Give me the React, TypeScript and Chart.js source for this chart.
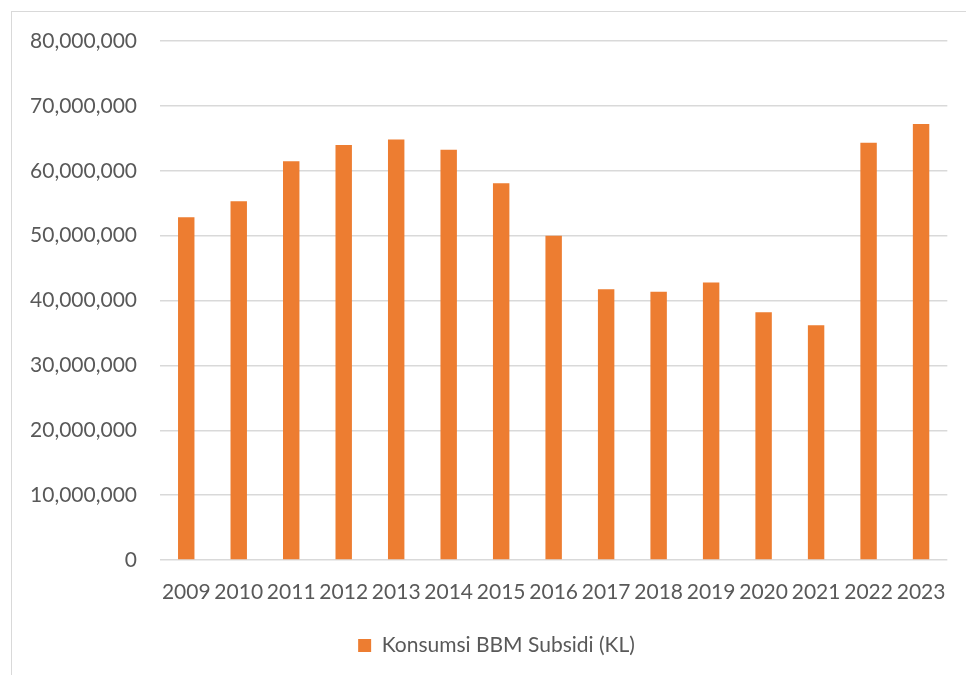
import React, { useEffect, useRef } from "react";
import { Chart, registerables } from "chart.js";

Chart.register(...registerables);

const years = [
  "2009", "2010", "2011", "2012", "2013", "2014", "2015", "2016",
  "2017", "2018", "2019", "2020", "2021", "2022", "2023",
];

// Subsidised fuel consumption, kilolitres
const konsumsiKL = [
  52850000, 55300000, 61450000, 63970000, 64800000, 63240000, 58060000,
  50000000, 41740000, 41330000, 42780000, 38200000, 36190000, 64320000,
  67200000,
];

const seriesLabel = "Konsumsi BBM Subsidi (KL)";
const yMax = 80000000;
const yStep = 10000000;

const FONT = "Lato, 'Open Sans', sans-serif";
const TEXT = "#595959";
const GRID = "#D9D9D9";
const BAR = "#ED7D31";

// Nudges the bottom legend to the right so it sits under the plot rather
// than under the whole canvas.
const legendShift = {
  id: "legendShift",
  afterLayout(chart: any) {
    const lg = chart.legend;
    if (!lg) return;
    lg.left += 12;
    lg.right += 12;
  },
};

export default function App() {
  const canvasRef = useRef<HTMLCanvasElement | null>(null);

  useEffect(() => {
    if (!canvasRef.current) return;
    const chart = new Chart(canvasRef.current, {
      type: "bar",
      data: {
        labels: years,
        datasets: [
          {
            label: seriesLabel,
            data: konsumsiKL,
            backgroundColor: BAR,
            borderWidth: 0,
            barPercentage: 0.313,
            categoryPercentage: 1,
          },
        ],
      },
      plugins: [legendShift],
      options: {
        animation: false,
        responsive: false,
        maintainAspectRatio: false,
        layout: { padding: { left: 20, right: 17, top: 41, bottom: 9 } },
        plugins: {
          tooltip: { enabled: false },
          legend: {
            position: "bottom",
            labels: {
              boxWidth: 13,
              boxHeight: 13,
              color: TEXT,
              font: { family: FONT, size: 21 },
            },
          },
        },
        scales: {
          x: {
            grid: { display: false, drawTicks: false },
            border: { display: false },
            ticks: {
              color: TEXT,
              font: { family: FONT, size: 21 },
              padding: 20,
              maxRotation: 0,
              autoSkip: false,
            },
            afterFit: (scale: any) => {
              scale.height = 65;
            },
          },
          y: {
            min: 0,
            max: yMax,
            grid: { color: GRID, lineWidth: 1.5, drawTicks: false },
            border: { display: false },
            ticks: {
              stepSize: yStep,
              color: TEXT,
              font: { family: FONT, size: 21 },
              padding: 23,
              callback: (v: any) => Number(v).toLocaleString("en-US"),
            },
            afterFit: (scale: any) => {
              scale.width = 140;
            },
          },
        },
      },
    });
    return () => chart.destroy();
  }, []);

  return (
    <div
      style={{
        position: "fixed",
        left: 0,
        top: 0,
        width: 966,
        height: 675,
        background: "#fff",
        overflow: "hidden",
      }}
    >
      <div
        style={{
          position: "absolute",
          left: 11,
          top: 11,
          width: 2000,
          height: 2000,
          borderLeft: `1.5px solid ${GRID}`,
          borderTop: `1.5px solid ${GRID}`,
        }}
      />
      <canvas
        ref={canvasRef}
        width={966}
        height={675}
        style={{ position: "absolute", left: 0, top: 0 }}
      />
    </div>
  );
}
